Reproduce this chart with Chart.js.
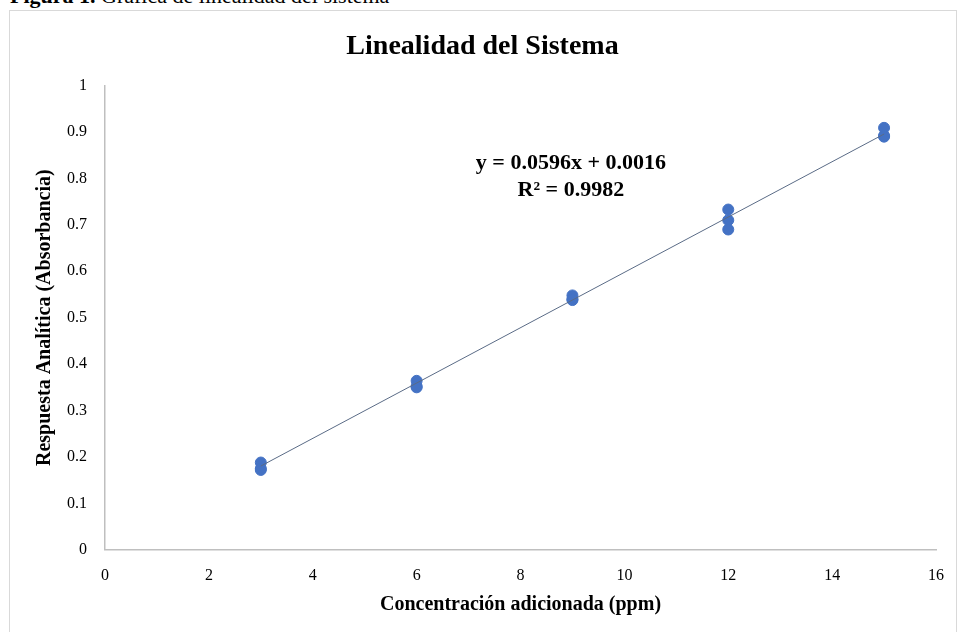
<!DOCTYPE html>
<html>
<head>
<meta charset="utf-8">
<script src="https://cdn.jsdelivr.net/npm/chart.js@4.4.0/dist/chart.umd.min.js"></script>
<style>
    body { margin: 0; background: #fff; width: 960px; height: 632px; overflow: hidden; position: relative; font-family: 'Liberation Serif', serif; }
    #caption { position: absolute; left: 10px; top: -17px; font-size: 22px; color: #000; white-space: nowrap; }
    #frame { position: absolute; left: 9px; top: 10px; width: 948px; height: 630px; border: 1px solid #d9d9d9; box-sizing: border-box; }
    #wrap { position: absolute; left: 10px; top: 11px; width: 946px; height: 621px; }
</style>
</head>
<body>
<div id="caption"><b>Figura 1.</b> Gráfica de linealidad del sistema</div>
<div id="frame"></div>
<div id="wrap"><canvas id="grafico"></canvas></div>
<script>
// Datos: concentración (ppm) y absorbancia, por triplicado
const concentraciones = [3, 3, 3, 6, 6, 6, 9, 9, 9, 12, 12, 12, 15, 15, 15];
const absorbancias = [0.188, 0.175, 0.172, 0.364, 0.352, 0.350, 0.548, 0.540, 0.538, 0.733, 0.710, 0.690, 0.909, 0.892, 0.890];

// Recta de regresión
const pendiente = 0.0596;
const intercepto = 0.0016;
const rangoRecta = [3, 15];
const ecuacion = ['y = 0.0596x + 0.0016', 'R² = 0.9982'];

// Ticks
const ticksX = [0, 2, 4, 6, 8, 10, 12, 14, 16];
const ticksY = [0, 0.1, 0.2, 0.3, 0.4, 0.5, 0.6, 0.7, 0.8, 0.9, 1];

const puntos = concentraciones.map((x, i) => ({ x: x, y: absorbancias[i] }));
const recta = rangoRecta.map(x => ({ x: x, y: pendiente * x + intercepto }));

// Etiqueta con la ecuación
const etiquetaEcuacion = {
    id: 'etiquetaEcuacion',
    afterDatasetsDraw(chart) {
        const ctx = chart.ctx;
        const cx = chart.scales.x.getPixelForValue(8.97);
        const cy = chart.scales.y.getPixelForValue(0.832);
        ctx.save();
        ctx.font = 'bold 22px "Liberation Serif"';
        ctx.fillStyle = '#000';
        ctx.textAlign = 'center';
        ctx.textBaseline = 'middle';
        ctx.fillText(ecuacion[0], cx, cy);
        ctx.fillText(ecuacion[1], cx, cy + 27);
        ctx.restore();
    }
};

const ctx = document.getElementById('grafico').getContext('2d');
new Chart(ctx, {
    type: 'scatter',
    data: {
        datasets: [{
            label: 'Absorbancia',
            data: puntos,
            backgroundColor: '#4472c4',
            borderColor: '#4472c4',
            pointRadius: 5.5,
            order: 1
        }, {
            label: 'Lineal',
            type: 'line',
            data: recta,
            borderColor: '#5a6b86',
            borderWidth: 1,
            pointRadius: 0,
            fill: false,
            order: 0
        }]
    },
    options: {
        responsive: true,
        maintainAspectRatio: false,
        animation: false,
        layout: { padding: { left: 19, right: 20, top: 8, bottom: 11 } },
        plugins: {
            legend: { display: false },
            tooltip: { enabled: false },
            title: {
                display: true,
                text: 'Linealidad del Sistema',
                color: '#000',
                font: { family: 'Liberation Serif', size: 28, weight: 'bold' },
                padding: { top: 11, bottom: 22 }
            }
        },
        scales: {
            x: {
                type: 'linear',
                min: 0,
                max: 16,
                afterBuildTicks: axis => { axis.ticks = ticksX.map(v => ({ value: v })); },
                grid: { display: false },
                border: { color: '#bfbfbf', width: 1.5 },
                ticks: { color: '#000', font: { family: 'Liberation Serif', size: 16 }, padding: 8 },
                title: {
                    display: true,
                    text: 'Concentración adicionada (ppm)',
                    color: '#000',
                    font: { family: 'Liberation Serif', size: 20, weight: 'bold' },
                    padding: { top: 0 }
                }
            },
            y: {
                min: 0,
                max: 1,
                afterBuildTicks: axis => { axis.ticks = ticksY.map(v => ({ value: v })); },
                grid: { display: false },
                border: { color: '#bfbfbf', width: 1.5 },
                ticks: {
                    color: '#000',
                    font: { family: 'Liberation Serif', size: 16 },
                    padding: 10,
                    callback: v => String(Math.round(v * 10) / 10)
                },
                title: {
                    display: true,
                    text: 'Respuesta Analítica (Absorbancia)',
                    color: '#000',
                    font: { family: 'Liberation Serif', size: 20, weight: 'bold' },
                    padding: { bottom: 0 }
                }
            }
        }
    },
    plugins: [etiquetaEcuacion]
});
</script>
</body>
</html>
